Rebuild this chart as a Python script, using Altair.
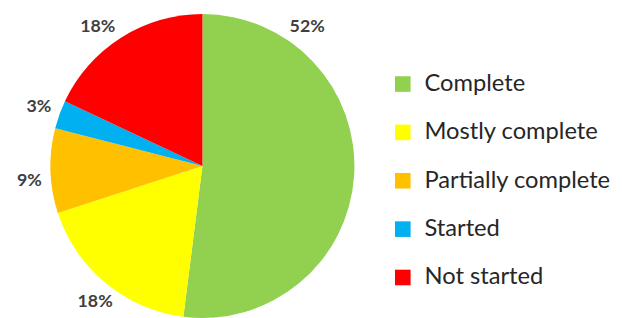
import math
import altair as alt
import pandas as pd

categories = ["Complete", "Mostly complete", "Partially complete", "Started", "Not started"]
shares = [52, 18, 9, 3, 18]
labels = ["52%", "18%", "9%", "3%", "18%"]
colors = ["#92D050", "#FFFF00", "#FFC000", "#00B0F0", "#FF0000"]

# layout: labels sit at the slice's middle angle, except where nudged (in turns)
label_nudge = {"Complete": -0.157, "Mostly complete": -0.004,
               "Partially complete": -0.009, "Not started": -0.013}

rows = []
cum = 0
total = sum(shares)
for i, (c, v, l) in enumerate(zip(categories, shares, labels)):
    mid = (cum + v / 2) / total
    cum += v
    rows.append(dict(order=i, category=c, share=v, label=l,
                     label_turn=mid + label_nudge.get(c, 0.0)))
df = pd.DataFrame(rows)

CX, CY = 197, 158
base = alt.Chart(df)

pie = base.mark_arc(outerRadius=154).encode(
    theta=alt.Theta("share:Q", stack=True),
    color=alt.Color(
        "category:N",
        scale=alt.Scale(domain=categories, range=colors),
        sort=categories,
        legend=alt.Legend(
            title=None, orient="none", legendX=388, legendY=63,
            symbolType="square", symbolSize=250, symbolStrokeWidth=0,
            labelFont="Lato", labelFontSize=24, labelColor="#262626",
            rowPadding=25, labelOffset=10, labelLimit=300,
        ),
    ),
    order=alt.Order("order:Q"),
    x=alt.value(CX),
    y=alt.value(CY),
)

text = base.mark_text(font="Lato", fontSize=18, fontWeight="bold", color="#404040",
                      align="center", baseline="middle").encode(
    theta=alt.Theta("label_turn:Q", stack=False,
                    scale=alt.Scale(domain=[0, 1], range=[0, 2 * math.pi])),
    radius=alt.value(176),
    text="label:N",
    x=alt.value(CX),
    y=alt.value(CY),
)

chart = (
    alt.layer(pie, text)
    .resolve_scale(theta="independent")
    .properties(width=614, height=310, padding=0,
                autosize=alt.AutoSizeParams(type="none"))
    .configure_view(stroke=None)
)

chart.save("out.html", embed_options={"renderer": "svg", "actions": False})
